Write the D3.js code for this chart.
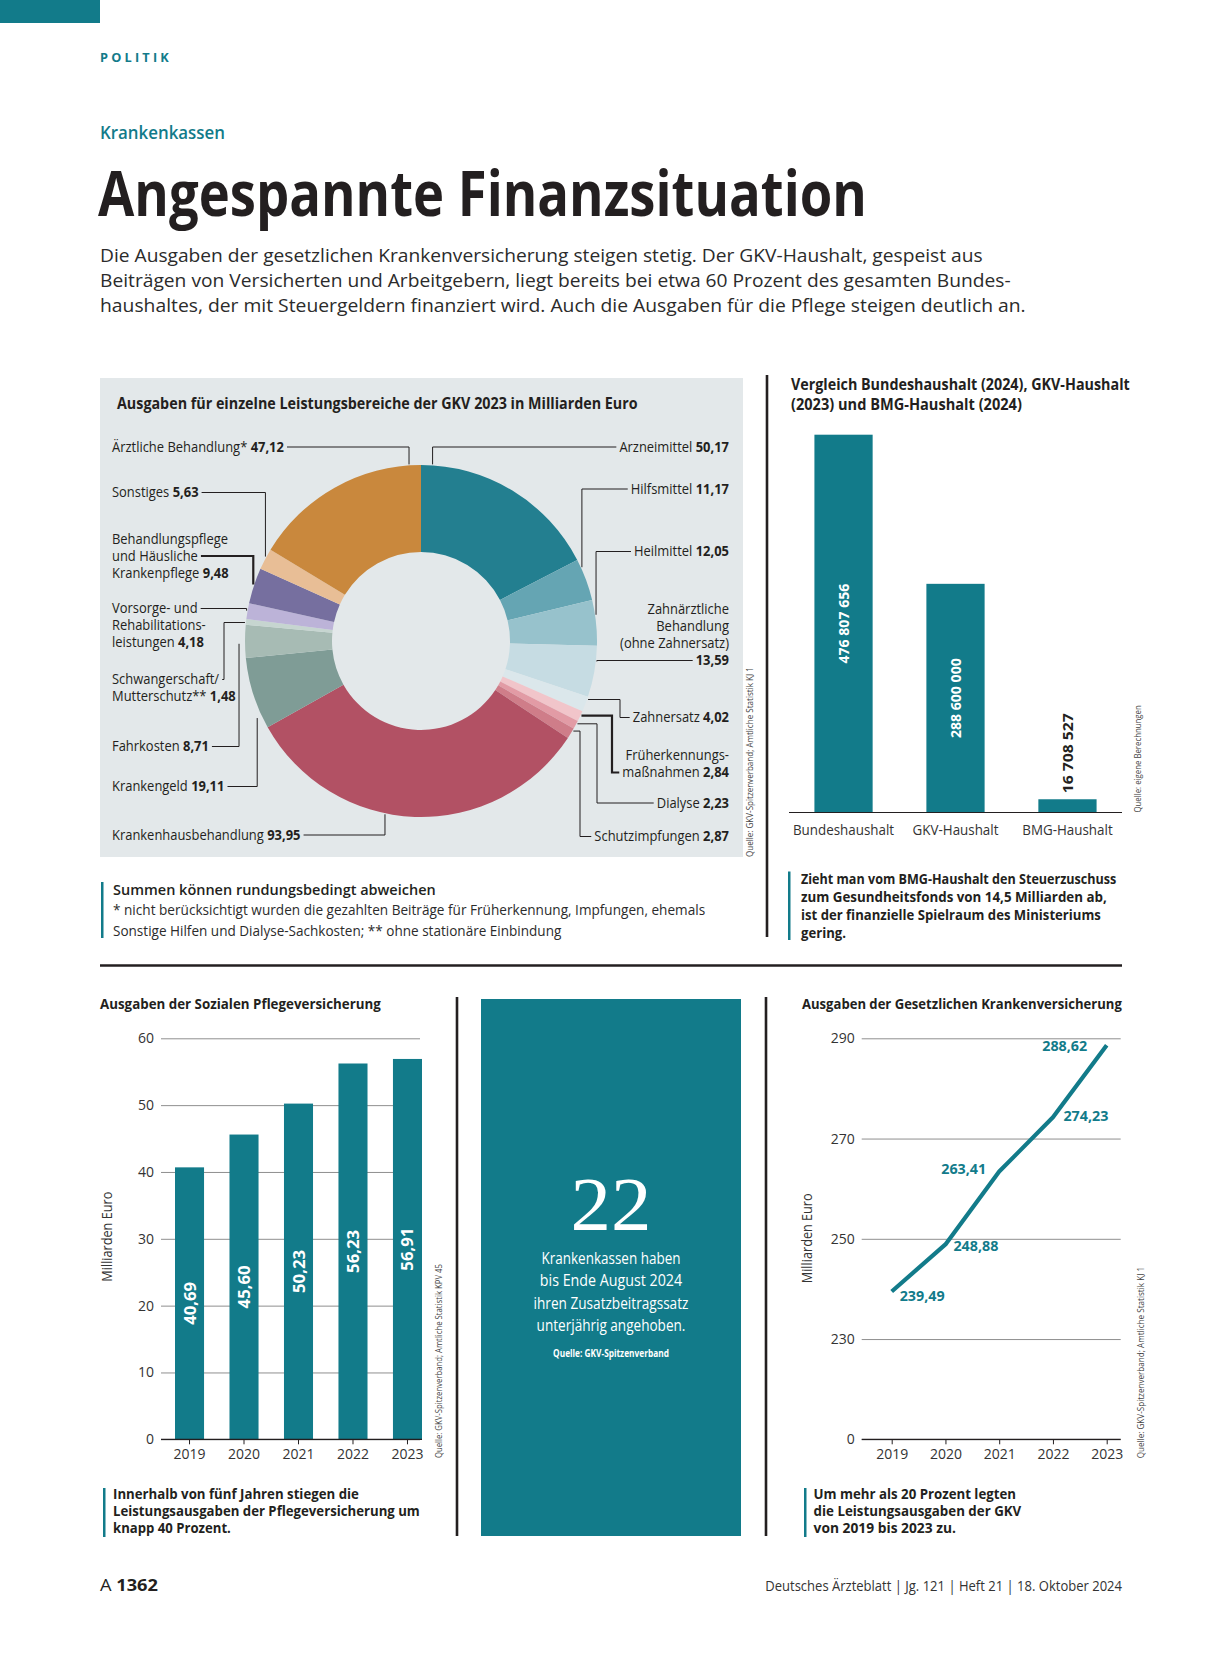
<!DOCTYPE html>
<html lang="de">
<head>
<meta charset="utf-8">
<title>Angespannte Finanzsituation</title>
<script src="https://d3js.org/d3.v7.min.js"></script>
<style>
  body { margin: 0; background: #fff; }
  svg { display: block; }
</style>
</head>
<body>
<div id="page"></div>
<script>
// Ausgaben GKV 2023 in Mrd. Euro, im Uhrzeigersinn ab 12 Uhr ("|" = Zeilenumbruch)
var pieNames = ["Arzneimittel", "Hilfsmittel", "Heilmittel",
    "Zahnärztliche|Behandlung|(ohne Zahnersatz)|", "Zahnersatz", "Früherkennungs-|maßnahmen",
    "Dialyse", "Schutzimpfungen", "Krankenhausbehandlung", "Krankengeld", "Fahrkosten",
    "Schwangerschaft/|Mutterschutz**", "Vorsorge- und|Rehabilitations-|leistungen",
    "Behandlungspflege|und Häusliche|Krankenpflege", "Sonstiges", "Ärztliche Behandlung*"];
var pieValues = [50.17, 11.17, 12.05, 13.59, 4.02, 2.84, 2.23, 2.87, 93.95, 19.11, 8.71,
    1.48, 4.18, 9.48, 5.63, 47.12];
var sliceColors = ["#237f90", "#65a5b3", "#97c2cc", "#c6dce3", "#dbe7eb", "#f1c5ca", "#e29ba5",
    "#cf7d89", "#b25164", "#7f9c96", "#a7bbb4", "#c6d5d0", "#bcb3d8", "#766f9f", "#e8be96", "#c9883d"];

var budgetNames = ["Bundeshaushalt", "GKV-Haushalt", "BMG-Haushalt"];
var budgetValues = [476807656, 288600000, 16708527];

var years = ["2019", "2020", "2021", "2022", "2023"];
var pflegeValues = [40.69, 45.60, 50.23, 56.23, 56.91];
var pflegeTicks = [0, 10, 20, 30, 40, 50, 60];
var gkvValues = [239.49, 248.88, 263.41, 274.23, 288.62];
var gkvTicks = [210, 230, 250, 270, 290];   // 210 = Achsenbruch, wird als "0" beschriftet

var introLines = [
    "Die Ausgaben der gesetzlichen Krankenversicherung steigen stetig. Der GKV-Haushalt, gespeist aus",
    "Beiträgen von Versicherten und Arbeitgebern, liegt bereits bei etwa 60 Prozent des gesamten Bundes-",
    "haushaltes, der mit Steuergeldern finanziert wird. Auch die Ausgaben für die Pflege steigen deutlich an."];
var introWidths = [883, 911, 926];

// Platzierung der Beschriftungen am Ring: Seite, Grundlinie, Zeile mit Linie, Lage im Segment, Knick
var pieLabelLayout = [
    { side: "R", y: 451.5, line: 0, t: 0.06 },
    { side: "R", y: 493.5, line: 0, t: 0.2 },
    { side: "R", y: 556, line: 0, t: 0.33 },
    { side: "R", y: 614, line: 3, t: 0.30 },
    { side: "R", y: 722, line: 0, t: 0.16, elbow: 620 },
    { side: "R", y: 760, line: 1, t: 0.41, elbow: 612, thick: true },
    { side: "R", y: 807.5, line: 0, t: 0.3, elbow: 597 },
    { side: "R", y: 841, line: 0, t: 0.21, elbow: 580 },
    { side: "L", y: 839.5, line: 0, t: 0.583 },
    { side: "L", y: 791, line: 0, t: 0.176, r: 181 },
    { side: "L", y: 751, line: 0, t: 0.43, r: 182 },
    { side: "L", y: 684, line: 0, t: 0.37, elbow: 224 },
    { side: "L", y: 613, line: 0, t: 0.52 },
    { side: "L", y: 543.5, line: 1, t: 0.53, thick: true },
    { side: "L", y: 497, line: 0, t: 0.61 },
    { side: "L", y: 451.5, line: 0, t: 0.934 }
];
// Versatz der Werte an der Linie (dx, dy, Ausrichtung)
var gkvLabelPos = [[8, 10, "start"], [8, 7, "start"], [-13, 2, "end"], [10.5, 4, "start"], [-19.5, 6, "end"]];

var W = 1223, H = 1654;
var SANS = "'Open Sans', 'Noto Sans', 'DejaVu Sans', sans-serif";
var SERIF = "'Liberation Serif', 'DejaVu Serif', serif";
var INK = "#231f20", TEAL = "#127b8a", GRID = "#8f8f8f", AXIS = "#333";

var de = d3.formatLocale({ decimal: ",", thousands: " ", grouping: [3], currency: ["", " €"] });
var fmt2 = de.format(".2f"), fmtInt = de.format(",d");

var svg = d3.select("#page").append("svg").attr("width", W).attr("height", H);
svg.append("rect").attr("width", W).attr("height", H).attr("fill", "#fff");

// Text mit gemischten Schnitten; wird horizontal auf Breite gebracht (Ersatz für Condensed-Schrift)
function addText(g, x, y, parts, o) {
    o = o || {};
    var t = g.append("text")
        .style("font-family", o.family || SANS)
        .attr("font-size", o.size || 14)
        .attr("font-weight", o.weight || 400)
        .attr("fill", o.fill || INK)
        .attr("text-anchor", o.anchor || "start");
    if (o.spacing) t.attr("letter-spacing", o.spacing);
    if (typeof parts === "string") parts = [[parts]];
    parts.forEach(function (p) {
        var s = t.append("tspan").text(p[0]);
        if (p[1]) s.attr("font-weight", 700);
    });
    var w = t.node().getComputedTextLength();
    var sx = o.width ? o.width / w : (o.k || 1);
    t.attr("transform", "translate(" + x + "," + y + ")" +
        (o.rotate ? " rotate(" + o.rotate + ")" : "") + " scale(" + sx + ",1)");
    return w * sx;
}

function rule(x1, y1, x2, y2, w, c) {
    svg.append("line").attr("x1", x1).attr("y1", y1).attr("x2", x2).attr("y2", y2)
        .attr("stroke", c || INK).attr("stroke-width", w || 1);
}

function styleAxis(g, size) {
    g.attr("font-family", SANS).attr("font-size", size || 14);
    g.selectAll("text").attr("fill", AXIS);
}

function draw() {
    // Kopf
    svg.append("rect").attr("x", 0).attr("y", 0).attr("width", 100).attr("height", 23).attr("fill", TEAL);
    addText(svg, 100, 62, "POLITIK", { size: 12, weight: 700, fill: TEAL, spacing: 3, width: 72 });
    addText(svg, 100, 139, "Krankenkassen", { size: 18, weight: 600, fill: TEAL, width: 125 });
    addText(svg, 98, 216, "Angespannte Finanzsituation", { size: 62, weight: 700, width: 769 });
    introLines.forEach(function (s, i) {
        addText(svg, 100, 262 + i * 25, s, { size: 18, fill: "#2b2b2b", width: introWidths[i] });
    });

    // Ring-Diagramm
    svg.append("rect").attr("x", 100).attr("y", 378).attr("width", 643).attr("height", 479).attr("fill", "#e3e8ea");
    addText(svg, 117, 409, "Ausgaben für einzelne Leistungsbereiche der GKV 2023 in Milliarden Euro",
        { size: 16, weight: 700, width: 521 });

    var cx = 421, cy = 641, R = 176;
    var arcs = d3.pie().sort(null).value(function (d) { return d; })(pieValues);
    var arc = d3.arc().innerRadius(89).outerRadius(R);
    svg.append("g").attr("transform", "translate(" + cx + "," + cy + ")")
        .selectAll("path").data(arcs).join("path")
        .attr("d", arc)
        .attr("fill", function (d, i) { return sliceColors[i]; });

    var probe = svg.append("g");
    var nat = addText(probe, 0, 0, [["Ärztliche Behandlung* "], ["47,12", true]], { size: 14.5 });
    probe.remove();
    var K = 172 / nat;

    var labelG = svg.append("g"), leaderG = svg.append("g");
    arcs.forEach(function (d, i) {
        var L = pieLabelLayout[i];
        var right = L.side === "R";
        var x = right ? 729 : 112;
        var lines = pieNames[i].split("|");
        var val = fmt2(pieValues[i]);
        var widths = lines.map(function (s, j) {
            var parts = [[s]];
            if (j === lines.length - 1) parts = s ? [[s + " "], [val, true]] : [[val, true]];
            return addText(labelG, x, L.y + j * 17, parts, { size: 14.5, anchor: right ? "end" : "start", k: K });
        });
        var ly = L.y + L.line * 17 - 4.5;
        var tx = right ? x - widths[L.line] - 3 : x + widths[L.line] + 3;
        var a = d.startAngle + L.t * (d.endAngle - d.startAngle);
        var rr = L.r || R + 1;
        var ax = cx + rr * Math.sin(a), ay = cy - rr * Math.cos(a);
        var p = d3.path();
        if (L.elbow) {
            p.moveTo(ax, ay); p.lineTo(L.elbow, ay); p.lineTo(L.elbow, ly); p.lineTo(tx, ly);
        } else {
            p.moveTo(tx, ly); p.lineTo(ax, ly); p.lineTo(ax, ay);
        }
        leaderG.append("path").attr("d", p.toString()).attr("fill", "none")
            .attr("stroke", INK).attr("stroke-width", L.thick ? 2.2 : 1);
    });
    addText(svg, 752.5, 857, "Quelle: GKV-Spitzenverband; Amtliche Statistik KJ 1",
        { size: 9.5, rotate: -90, width: 190, fill: "#444" });

    svg.append("rect").attr("x", 101).attr("y", 882).attr("width", 2.5).attr("height", 56).attr("fill", TEAL);
    addText(svg, 113, 895, "Summen können rundungsbedingt abweichen", { size: 15, weight: 600, width: 323 });
    addText(svg, 113, 915, "* nicht berücksichtigt wurden die gezahlten Beiträge für Früherkennung, Impfungen, ehemals",
        { size: 14.5, fill: "#2b2b2b", width: 593 });
    addText(svg, 113, 936, "Sonstige Hilfen und Dialyse-Sachkosten; ** ohne stationäre Einbindung",
        { size: 14.5, fill: "#2b2b2b", width: 449 });

    // Haushalte im Vergleich
    rule(767, 375, 767, 937, 2.6);
    addText(svg, 791, 389.5, "Vergleich Bundeshaushalt (2024), GKV-Haushalt", { size: 16, weight: 700, width: 339 });
    addText(svg, 791, 409.5, "(2023) und BMG-Haushalt (2024)", { size: 16, weight: 700, width: 231 });

    var xB = d3.scaleBand().domain(budgetNames).range([789, 1122]).paddingInner(0.48).paddingOuter(0.227);
    var yB = d3.scaleLinear().domain([0, budgetValues[0]]).range([812.5, 434.7]);
    var gB = svg.append("g");
    gB.selectAll("rect").data(budgetValues).join("rect")
        .attr("x", function (d, i) { return xB(budgetNames[i]); })
        .attr("y", function (d) { return yB(d); })
        .attr("width", xB.bandwidth())
        .attr("height", function (d) { return yB(0) - yB(d); })
        .attr("fill", TEAL);
    budgetValues.forEach(function (v, i) {
        var xc = xB(budgetNames[i]) + xB.bandwidth() / 2 + 5.5;
        var inside = yB(0) - yB(v) > 100;
        addText(gB, xc, inside ? (yB(v) + yB(0)) / 2 : yB(v) - 6, fmtInt(v), {
            size: 15, weight: 700, rotate: -90, width: 80,
            anchor: inside ? "middle" : "start", fill: inside ? "#fff" : INK
        });
    });
    var axB = svg.append("g").attr("transform", "translate(0,812.5)")
        .call(d3.axisBottom(xB).tickSize(0).tickPadding(12));
    axB.select(".domain").remove();
    styleAxis(axB, 15);
    axB.selectAll("text").attr("transform", "scale(" + K + ",1)");
    rule(789, 812.5, 1122, 812.5, 1.2);
    addText(svg, 1141, 812.5, "Quelle: eigene Berechnungen", { size: 9.5, rotate: -90, width: 107.5, fill: "#444" });

    svg.append("rect").attr("x", 788).attr("y", 871.5).attr("width", 2.5).attr("height", 68.5).attr("fill", TEAL);
    [["Zieht man vom BMG-Haushalt den Steuerzuschuss", 315.6],
     ["zum Gesundheitsfonds von 14,5 Milliarden ab,", 306],
     ["ist der finanzielle Spielraum des Ministeriums", 300],
     ["gering.", 45]].forEach(function (r, i) {
        addText(svg, 801, 883.5 + i * 18, r[0], { size: 14.5, weight: 700, width: r[1] });
    });

    rule(100, 965.5, 1122, 965.5, 2.6);

    // Soziale Pflegeversicherung
    addText(svg, 100, 1009, "Ausgaben der Sozialen Pflegeversicherung", { size: 15, weight: 700, width: 281 });
    var xP = d3.scaleBand().domain(years).range([175, 422]).paddingInner(0.467).paddingOuter(0);
    var yP = d3.scaleLinear().domain([0, 60]).range([1439.3, 1038.3]);
    var gridP = svg.append("g").attr("transform", "translate(161,0)")
        .call(d3.axisLeft(yP).tickValues(pflegeTicks).tickSize(-259).tickPadding(7));
    gridP.select(".domain").remove();
    gridP.selectAll("line").attr("stroke", GRID);
    styleAxis(gridP, 14);
    svg.append("g").selectAll("rect").data(pflegeValues).join("rect")
        .attr("x", function (d, i) { return xP(years[i]); })
        .attr("y", function (d) { return yP(d); })
        .attr("width", xP.bandwidth())
        .attr("height", function (d) { return yP(0) - yP(d); })
        .attr("fill", TEAL);
    pflegeValues.forEach(function (v, i) {
        addText(svg, xP(years[i]) + xP.bandwidth() / 2 + 6, (yP(v) + yP(0)) / 2, fmt2(v),
            { size: 16, weight: 700, rotate: -90, anchor: "middle", fill: "#fff", width: 43 });
    });
    var axP = svg.append("g").attr("transform", "translate(0,1439.3)")
        .call(d3.axisBottom(xP).tickSize(5).tickPadding(5).tickSizeOuter(0));
    axP.select(".domain").remove();
    axP.selectAll("line").attr("stroke", INK);
    styleAxis(axP, 14);
    rule(161, 1439.3, 422, 1439.3, 1.2);
    addText(svg, 112, 1236.7, "Milliarden Euro", { size: 15, rotate: -90, anchor: "middle", width: 90, fill: "#333" });
    addText(svg, 441.5, 1458, "Quelle: GKV-Spitzenverband; Amtliche Statistik KPV 45",
        { size: 9.5, rotate: -90, width: 194, fill: "#444" });
    rule(457, 997, 457, 1536, 2.6);

    svg.append("rect").attr("x", 103).attr("y", 1488).attr("width", 2.5).attr("height", 49).attr("fill", TEAL);
    [["Innerhalb von fünf Jahren stiegen die", 246],
     ["Leistungsausgaben der Pflegeversicherung um", 307],
     ["knapp 40 Prozent.", 118]].forEach(function (r, i) {
        addText(svg, 113, 1498.5 + i * 17.3, r[0], { size: 14.5, weight: 700, width: r[1] });
    });

    // Kasten "22"
    svg.append("rect").attr("x", 481).attr("y", 999).attr("width", 260).attr("height", 537).attr("fill", TEAL);
    addText(svg, 611, 1229.5, "22", { family: SERIF, size: 76, anchor: "middle", fill: "#fff", width: 81 });
    [["Krankenkassen haben", 139], ["bis Ende August 2024", 142.5],
     ["ihren Zusatzbeitragssatz", 155], ["unterjährig angehoben.", 149]].forEach(function (r, i) {
        addText(svg, 611, 1264 + i * 22.3, r[0], { size: 15.5, anchor: "middle", fill: "#fff", width: r[1] });
    });
    addText(svg, 611, 1357, "Quelle: GKV-Spitzenverband", { size: 10, weight: 700, anchor: "middle", fill: "#fff", width: 116 });
    rule(766, 997, 766, 1536, 2.6);

    // Gesetzliche Krankenversicherung
    addText(svg, 802, 1009, "Ausgaben der Gesetzlichen Krankenversicherung", { size: 15, weight: 700, width: 320 });
    var xG = d3.scalePoint().domain(years).range([891.7, 1106.7]);
    var yG = d3.scaleLinear().domain([210, 290]).range([1439.3, 1038.3]);
    var gridG = svg.append("g").attr("transform", "translate(861.7,0)")
        .call(d3.axisLeft(yG).tickValues(gkvTicks).tickSize(-259).tickPadding(7)
            .tickFormat(function (d) { return d === 210 ? "0" : d; }));
    gridG.select(".domain").remove();
    gridG.selectAll("line").attr("stroke", GRID);
    styleAxis(gridG, 14);
    var line = d3.line()
        .x(function (d, i) { return xG(years[i]); })
        .y(function (d) { return yG(d); });
    svg.append("path").datum(gkvValues).attr("d", line)
        .attr("fill", "none").attr("stroke", TEAL).attr("stroke-width", 4.2)
        .attr("stroke-linejoin", "round");
    gkvValues.forEach(function (v, i) {
        var o = gkvLabelPos[i];
        addText(svg, xG(years[i]) + o[0], yG(v) + o[1], fmt2(v),
            { size: 15, weight: 700, anchor: o[2], fill: TEAL, width: 45 });
    });
    var axG = svg.append("g").attr("transform", "translate(0,1439.3)")
        .call(d3.axisBottom(xG).tickSize(5).tickPadding(5).tickSizeOuter(0));
    axG.select(".domain").remove();
    axG.selectAll("line").attr("stroke", INK);
    styleAxis(axG, 14);
    rule(861.7, 1439.3, 1120.7, 1439.3, 1.2);
    addText(svg, 812, 1238.3, "Milliarden Euro", { size: 15, rotate: -90, anchor: "middle", width: 90, fill: "#333" });
    addText(svg, 1143.5, 1458.3, "Quelle: GKV-Spitzenverband; Amtliche Statistik KJ 1",
        { size: 9.5, rotate: -90, width: 191.6, fill: "#444" });

    svg.append("rect").attr("x", 804).attr("y", 1488).attr("width", 2.5).attr("height", 49).attr("fill", TEAL);
    [["Um mehr als 20 Prozent legten", 202.6],
     ["die Leistungsausgaben der GKV", 208],
     ["von 2019 bis 2023 zu.", 142.4]].forEach(function (r, i) {
        addText(svg, 813.6, 1498.5 + i * 17.3, r[0], { size: 14.5, weight: 700, width: r[1] });
    });

    // Fußzeile
    addText(svg, 100, 1591, [["A "], ["1362", true]], { size: 16.5, width: 58 });
    addText(svg, 1122, 1591, "Deutsches Ärzteblatt | Jg. 121 | Heft 21 | 18. Oktober 2024",
        { size: 14, anchor: "end", width: 357, fill: "#333" });
}

if (document.fonts && document.fonts.ready) {
    document.fonts.ready.then(draw);
} else {
    draw();
}
</script>
</body>
</html>
